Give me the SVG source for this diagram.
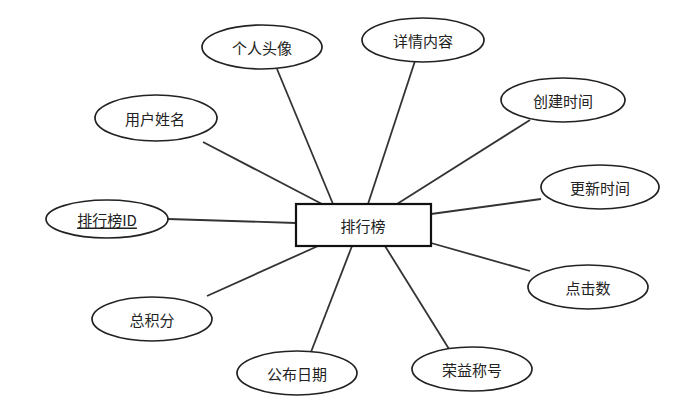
<svg xmlns="http://www.w3.org/2000/svg" width="695" height="409" viewBox="0 0 695 409">
<style>
.e{fill:#fff;stroke:#222;stroke-width:1.7}
.t{font-family:"Noto Sans CJK SC","Microsoft YaHei",sans-serif;font-size:15px;fill:#222;text-anchor:middle;dominant-baseline:central}
.c line{stroke:#333;stroke-width:1.8}
</style>
<rect width="695" height="409" fill="#fff"/>
<g class="c" id="connectors">
<line x1="168" y1="219" x2="296" y2="223"/>
<line x1="203" y1="142" x2="322" y2="204"/>
<line x1="277" y1="69" x2="333" y2="204"/>
<line x1="415" y1="61" x2="368" y2="204"/>
<line x1="530" y1="120" x2="397" y2="204"/>
<line x1="541" y1="199" x2="431" y2="214"/>
<line x1="530" y1="271" x2="431" y2="243"/>
<line x1="449" y1="349" x2="385" y2="246"/>
<line x1="311" y1="352" x2="352" y2="246"/>
<line x1="207" y1="296" x2="318" y2="246"/>
</g>
<g id="n0"><rect x="296" y="204" width="135" height="42" fill="#fff" stroke="#111" stroke-width="2.2"/><text class="t" x="363" y="225">排行榜</text></g>
<g id="n1"><ellipse class="e" cx="107" cy="219" rx="61" ry="19"/><text class="t" x="107" y="219" text-decoration="underline">排行榜ID</text></g>
<g id="n2"><ellipse class="e" cx="156" cy="118" rx="61" ry="23"/><text class="t" x="155" y="118">用户姓名</text></g>
<g id="n3"><ellipse class="e" cx="262" cy="47" rx="60" ry="22"/><text class="t" x="262" y="47">个人头像</text></g>
<g id="n4"><ellipse class="e" cx="423" cy="40" rx="61" ry="22"/><text class="t" x="423" y="40">详情内容</text></g>
<g id="n5"><ellipse class="e" cx="563" cy="100" rx="62" ry="22"/><text class="t" x="563" y="100">创建时间</text></g>
<g id="n6"><ellipse class="e" cx="600" cy="187" rx="59" ry="22"/><text class="t" x="600" y="187">更新时间</text></g>
<g id="n7"><ellipse class="e" cx="588" cy="287" rx="60" ry="22"/><text class="t" x="588" y="287">点击数</text></g>
<g id="n8"><ellipse class="e" cx="152" cy="319" rx="60" ry="22"/><text class="t" x="152" y="319">总积分</text></g>
<g id="n9"><ellipse class="e" cx="297" cy="373" rx="60" ry="22"/><text class="t" x="297" y="373">公布日期</text></g>
<g id="n10"><ellipse class="e" cx="472" cy="369" rx="60" ry="22"/><text class="t" x="472" y="369">荣益称号</text></g>
</svg>
